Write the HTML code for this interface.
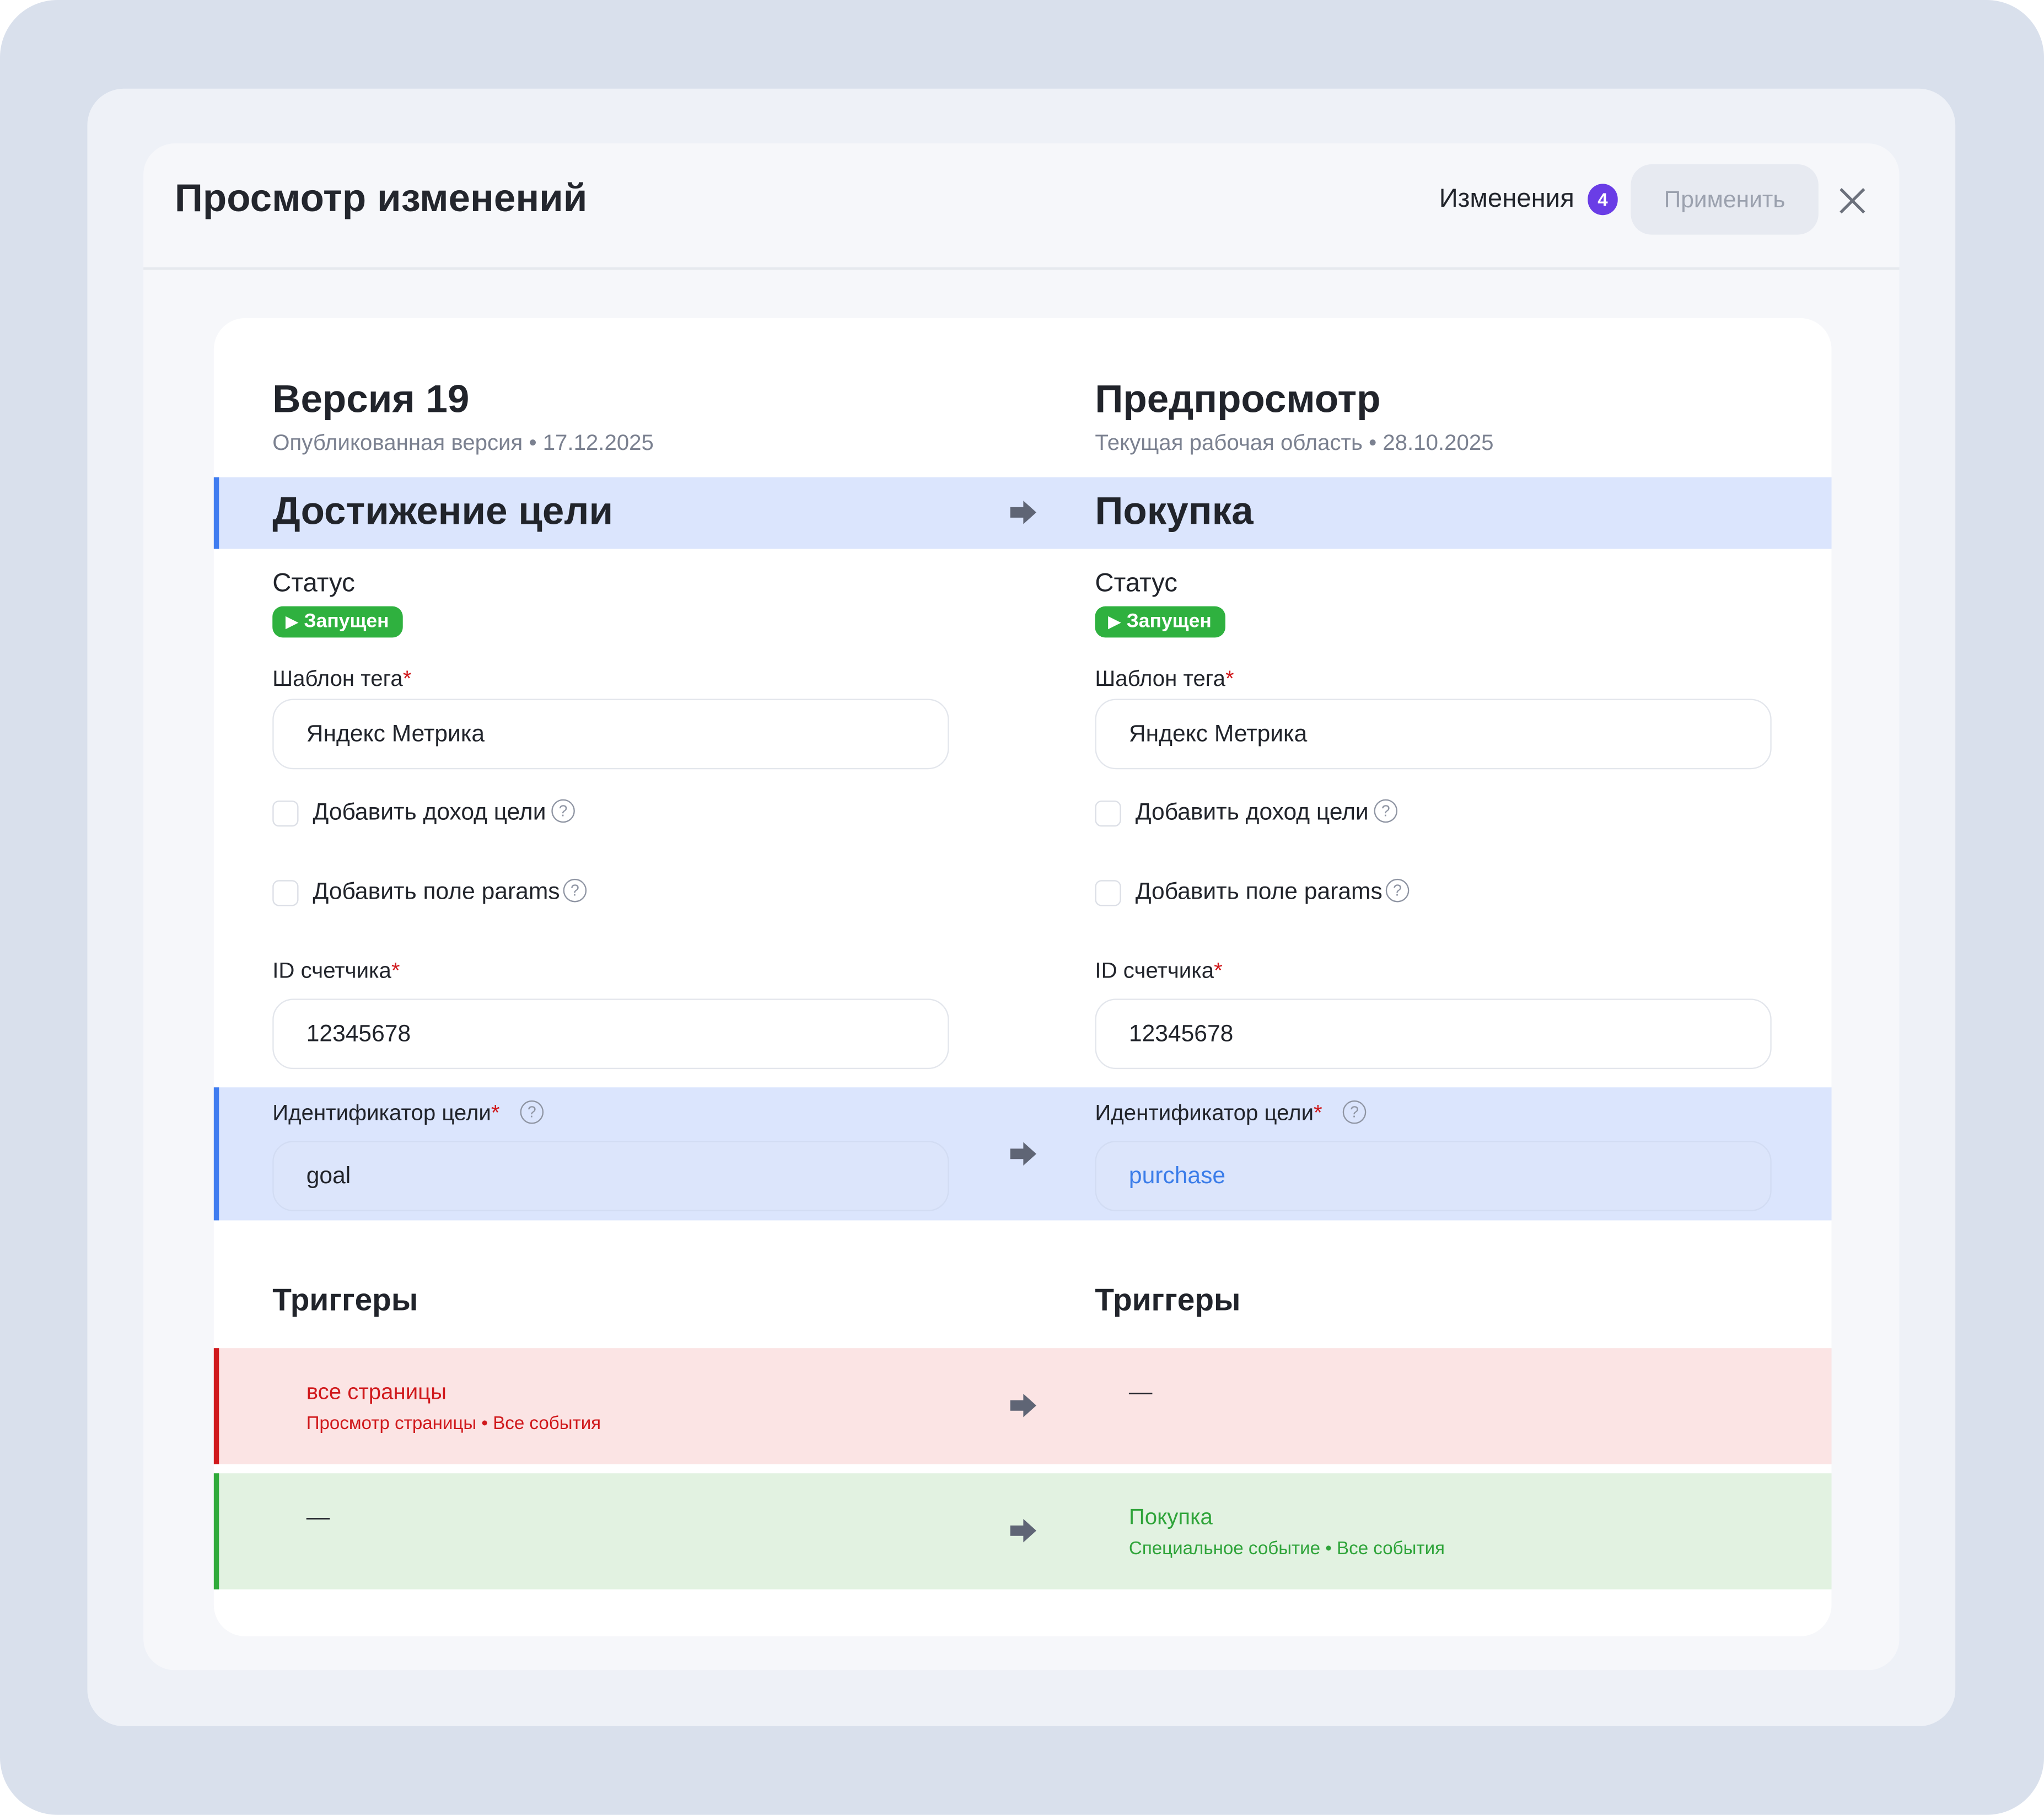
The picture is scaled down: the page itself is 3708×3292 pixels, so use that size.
<!DOCTYPE html>
<html><head><meta charset="utf-8"><style>
html,body{margin:0;padding:0;background:#fff;}
#root{width:1568px;height:1392px;position:relative;transform:scale(2.36480);transform-origin:0 0;font-family:"Liberation Sans","DejaVu Sans",sans-serif;color:#21242b;}
.a{position:absolute;white-space:nowrap;}
.outer{left:0;top:0;width:1568px;height:1392px;background:#d9e0ec;border-radius:44px;}
.panel{left:67px;top:68px;width:1433px;height:1256px;background:#eef1f7;border-radius:28px;}
.modal{left:110px;top:110px;width:1347px;height:1171px;background:#f6f7fa;border-radius:24px;}
.sep{left:110px;top:205px;width:1347px;height:2px;background:#e6e9ee;}
.card{left:164px;top:244px;width:1241px;height:1011px;background:#fff;border-radius:24px;}
.t{transform:translateY(-50%);}
.band{left:164px;width:1241px;}
.inp{width:517px;height:52px;border:1px solid #e3e6ec;border-radius:16px;background:#fff;}
.cb{width:18px;height:18px;border:1px solid #dcdfe6;border-radius:5px;background:#fff;}
.q{width:16px;height:16px;border:1.6px solid #8f95a3;border-radius:50%;font-size:12px;color:#8f95a3;text-align:center;line-height:16px;}
.badge{height:24px;width:100px;background:#2fb13f;border-radius:8px;color:#fff;font-weight:bold;font-size:15px;line-height:24px;}
.arrow{width:22px;height:20px;}
</style></head><body><div id="root">
<div class="a outer"></div>
<div class="a panel"></div>
<div class="a modal"></div>
<div class="a sep"></div>
<div class="a t" style="left:134px;top:153px;font-size:30px;font-weight:600;color:#23262d">Просмотр изменений</div>
<div class="a t" style="left:1104px;top:153px;font-size:20px">Изменения</div>
<div class="a" style="left:1218px;top:141px;width:23px;height:24px;border-radius:12px;background:#6a3de6;color:#fff;font-size:14px;font-weight:bold;text-align:center;line-height:24px">4</div>
<div class="a" style="left:1251px;top:126px;width:144px;height:54px;border-radius:16px;background:#e7eaf1;color:#9ba1ae;font-size:18px;text-align:center;line-height:54px">Применить</div>
<svg class="a" style="left:1410px;top:143px" width="22" height="22"><path d="M2 2L20 20M20 2L2 20" stroke="#6c717c" stroke-width="2.2"/></svg>
<div class="a card"></div>

<div class="a t" style="left:209px;top:307px;font-size:30px;font-weight:bold">Версия 19</div>
<div class="a t" style="left:209px;top:340px;font-size:17px;color:#7b8190">Опубликованная версия • 17.12.2025</div>
<div class="a t" style="left:840px;top:307px;font-size:30px;font-weight:bold">Предпросмотр</div>
<div class="a t" style="left:840px;top:340px;font-size:17px;color:#7b8190">Текущая рабочая область • 28.10.2025</div>

<div class="a band" style="top:366px;height:55px;background:#dbe5fd;border-left:4px solid #3f7cf0;box-sizing:border-box"></div>
<div class="a t" style="left:209px;top:393px;font-size:30px;font-weight:bold">Достижение цели</div>
<div class="a t" style="left:840px;top:393px;font-size:30px;font-weight:bold">Покупка</div>

<div class="a band" style="top:834px;height:102px;background:#dbe5fd;border-left:4px solid #3f7cf0;box-sizing:border-box"></div>
<div class="a band" style="top:1034px;height:89px;background:#fbe4e4;border-left:4px solid #d0191c;box-sizing:border-box"></div>
<div class="a band" style="top:1130px;height:89px;background:#e2f2e1;border-left:4px solid #2faa3a;box-sizing:border-box"></div>

<!-- arrows -->
<svg class="a" style="left:774px;top:383px" width="22" height="20"><path d="M1 6H11V1L21 10L11 19V14H1Z" fill="#5f6575"/></svg>
<svg class="a" style="left:774px;top:875px" width="22" height="20"><path d="M1 6H11V1L21 10L11 19V14H1Z" fill="#5f6575"/></svg>
<svg class="a" style="left:774px;top:1068px" width="22" height="20"><path d="M1 6H11V1L21 10L11 19V14H1Z" fill="#5f6575"/></svg>
<svg class="a" style="left:774px;top:1164px" width="22" height="20"><path d="M1 6H11V1L21 10L11 19V14H1Z" fill="#5f6575"/></svg>

<!-- left column -->
<div class="a t" style="left:209px;top:448px;font-size:20px">Статус</div>
<div class="a badge" style="left:209px;top:465px"><span style="margin-left:10px;font-size:13px">▶</span> Запущен</div>
<div class="a t" style="left:209px;top:521px;font-size:17px">Шаблон тега<span style="color:#d0191c">*</span></div>
<div class="a inp" style="left:209px;top:536px"></div>
<div class="a t" style="left:235px;top:563px;font-size:18px">Яндекс Метрика</div>
<div class="a cb" style="left:209px;top:614px"></div>
<div class="a t" style="left:240px;top:623px;font-size:18px">Добавить доход цели</div>
<div class="a q" style="left:423px;top:613px">?</div>
<div class="a cb" style="left:209px;top:675px"></div>
<div class="a t" style="left:240px;top:684px;font-size:18px">Добавить поле params</div>
<div class="a q" style="left:432px;top:674px">?</div>
<div class="a t" style="left:209px;top:745px;font-size:17px">ID счетчика<span style="color:#d0191c">*</span></div>
<div class="a inp" style="left:209px;top:766px"></div>
<div class="a t" style="left:235px;top:793px;font-size:18px">12345678</div>
<div class="a t" style="left:209px;top:854px;font-size:17px">Идентификатор цели<span style="color:#d0191c">*</span></div>
<div class="a q" style="left:399px;top:844px">?</div>
<div class="a inp" style="left:209px;top:875px;background:#dce5fb;border-color:#d2dcf3"></div>
<div class="a t" style="left:235px;top:902px;font-size:18px">goal</div>
<div class="a t" style="left:209px;top:998px;font-size:24px;font-weight:bold">Триггеры</div>
<div class="a t" style="left:235px;top:1068px;font-size:17px;color:#d0191c">все страницы</div>
<div class="a t" style="left:235px;top:1091px;font-size:14px;color:#d0191c">Просмотр страницы • Все события</div>
<div class="a t" style="left:235px;top:1164px;font-size:18px">—</div>

<!-- right column -->
<div class="a t" style="left:840px;top:448px;font-size:20px">Статус</div>
<div class="a badge" style="left:840px;top:465px"><span style="margin-left:10px;font-size:13px">▶</span> Запущен</div>
<div class="a t" style="left:840px;top:521px;font-size:17px">Шаблон тега<span style="color:#d0191c">*</span></div>
<div class="a inp" style="left:840px;top:536px"></div>
<div class="a t" style="left:866px;top:563px;font-size:18px">Яндекс Метрика</div>
<div class="a cb" style="left:840px;top:614px"></div>
<div class="a t" style="left:871px;top:623px;font-size:18px">Добавить доход цели</div>
<div class="a q" style="left:1054px;top:613px">?</div>
<div class="a cb" style="left:840px;top:675px"></div>
<div class="a t" style="left:871px;top:684px;font-size:18px">Добавить поле params</div>
<div class="a q" style="left:1063px;top:674px">?</div>
<div class="a t" style="left:840px;top:745px;font-size:17px">ID счетчика<span style="color:#d0191c">*</span></div>
<div class="a inp" style="left:840px;top:766px"></div>
<div class="a t" style="left:866px;top:793px;font-size:18px">12345678</div>
<div class="a t" style="left:840px;top:854px;font-size:17px">Идентификатор цели<span style="color:#d0191c">*</span></div>
<div class="a q" style="left:1030px;top:844px">?</div>
<div class="a inp" style="left:840px;top:875px;background:#dce5fb;border-color:#d2dcf3"></div>
<div class="a t" style="left:866px;top:902px;font-size:18px;color:#3b7de9">purchase</div>
<div class="a t" style="left:840px;top:998px;font-size:24px;font-weight:bold">Триггеры</div>
<div class="a t" style="left:866px;top:1068px;font-size:18px">—</div>
<div class="a t" style="left:866px;top:1164px;font-size:17px;color:#2fa43a">Покупка</div>
<div class="a t" style="left:866px;top:1187px;font-size:14px;color:#2fa43a">Специальное событие • Все события</div>
</div></body></html>
